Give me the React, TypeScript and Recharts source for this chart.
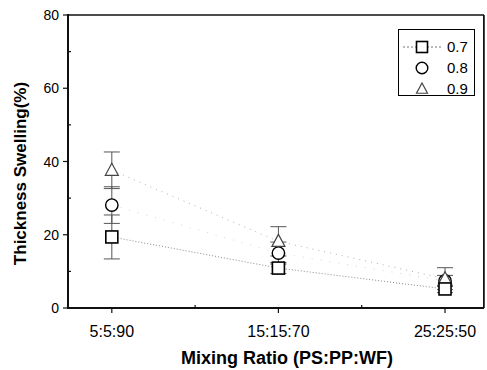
import React from 'react';
import { ComposedChart, Line, XAxis, YAxis, ErrorBar, ReferenceArea } from 'recharts';

// categories along the x axis (placed at 0, 1, 2)
const ratios = ['5:5:90', '15:15:70', '25:25:50'];

// thickness swelling (%) per density
const swell07 = [19.4, 10.9, 5.2];
const swell08 = [28.1, 15.0, 7.4];
const swell09 = [37.6, 18.2, 8.0];

// error bar half-widths
const err07 = [6.0, 1.5, 1.0];
const err08 = [5.0, 3.0, 1.5];
const err09 = [5.0, 4.0, 3.0];

const xTicks = [0, 0.5, 1, 1.5, 2];
const yTicks = [0, 10, 20, 30, 40, 50, 60, 70, 80];
const legendLabels = ['0.7', '0.8', '0.9'];

const FONT = '"Liberation Sans", Arial, Helvetica, sans-serif';
const X_DOMAIN = [-0.263, 2.234];
const Y_DOMAIN = [0, 80];
const AXIS = '#111';

const data = ratios.map((r, i) => ({
    x: i,
    s07: swell07[i],
    s08: swell08[i],
    s09: swell09[i],
    e07: err07[i],
    e08: err08[i],
    e09: err09[i]
}));

const Square = ({ cx, cy, s = 6 }: any) => (
    <rect x={cx - s} y={cy - s} width={2 * s} height={2 * s} fill="#fff" stroke="#000" strokeWidth={1.6} />
);
const Circle = ({ cx, cy, r = 6.2 }: any) => (
    <circle cx={cx} cy={cy} r={r} fill="#fff" stroke="#000" strokeWidth={1.4} />
);
const Triangle = ({ cx, cy, s = 6.5 }: any) => (
    <polygon
        points={`${cx},${cy - s - 0.5} ${cx - s},${cy + s * 0.77} ${cx + s},${cy + s * 0.77}`}
        fill="#fff"
        stroke="#444"
        strokeWidth={1.2}
    />
);

const XTick = ({ x, y, payload }: any) => {
    const major = Number.isInteger(payload.value);
    return (
        <g>
            <line x1={x} x2={x} y1={y} y2={major ? y + 5 : y - 3} stroke={AXIS} strokeWidth={1.2} />
            {major && (
                <text x={x} y={y + 29} textAnchor="middle" fontSize={16} fontFamily={FONT} fill="#000">
                    {ratios[payload.value]}
                </text>
            )}
        </g>
    );
};

const YTick = ({ x, y, payload }: any) => {
    const major = payload.value % 20 === 0;
    return (
        <g>
            <line x1={x} x2={major ? x - 5 : x + 3} y1={y} y2={y} stroke={AXIS} strokeWidth={1.2} />
            {major && (
                <text x={x - 9} y={y + 5} textAnchor="end" fontSize={14} fontFamily={FONT} fill="#000">
                    {payload.value}
                </text>
            )}
        </g>
    );
};

const RightTick = ({ x, y, payload }: any) => {
    const major = payload.value % 20 === 0;
    if (payload.value === 0 || payload.value === 80) return null;
    return <line x1={x} x2={x - (major ? 5 : 3)} y1={y} y2={y} stroke={AXIS} strokeWidth={1.2} />;
};

const LegendBox = () => (
    <div style={{ position: 'absolute', left: 398, top: 29, width: 77, height: 67, border: '1.5px solid #000', background: '#fff', boxSizing: 'border-box' }}>
        <svg width={74} height={64} style={{ display: 'block', overflow: 'visible' }}>
            <line x1={4} x2={44} y1={17} y2={17} stroke="#777" strokeDasharray="2 2" />
            <Square cx={23} cy={17} s={5.5} />
            <Circle cx={23} cy={38} r={5.8} />
            <Triangle cx={23} cy={59} s={5.5} />
            {legendLabels.map((t, i) => (
                <text key={t} x={48} y={22 + i * 21} fontSize={15} fontFamily={FONT} fill="#000">
                    {t}
                </text>
            ))}
        </svg>
    </div>
);

// frame edges as thin filled bands (about 2px / 1.5px wide)
const dx = 0.006;
const dy = 0.28;

export default function App() {
    return (
        <div style={{ position: 'absolute', left: 0, top: 0, width: 487, height: 370, background: '#fff' }}>
            <ComposedChart
                width={487}
                height={370}
                data={data}
                margin={{ top: 15, right: 2, left: 0, bottom: 0 }}
            >
                <XAxis
                    dataKey="x"
                    type="number"
                    domain={X_DOMAIN}
                    ticks={xTicks}
                    allowDataOverflow
                    height={62}
                    tickSize={0}
                    tickMargin={0}
                    tickLine={false}
                    tick={<XTick />}
                    stroke={AXIS}
                    strokeWidth={2}
                    label={{
                        value: 'Mixing Ratio (PS:PP:WF)',
                        position: 'insideBottom',
                        offset: 6,
                        dx: 11,
                        style: { fontFamily: FONT, fontSize: 18, fontWeight: 'bold', fill: '#000' }
                    }}
                />
                <YAxis
                    type="number"
                    domain={Y_DOMAIN}
                    ticks={yTicks}
                    allowDataOverflow
                    width={68}
                    tickSize={0}
                    tickMargin={0}
                    tickLine={false}
                    tick={<YTick />}
                    stroke={AXIS}
                    strokeWidth={2}
                    label={{
                        value: 'Thickness Swelling(%)',
                        angle: -90,
                        position: 'insideLeft',
                        offset: 20,
                        dy: 12,
                        style: { fontFamily: FONT, fontSize: 17, fontWeight: 'bold', fill: '#000', textAnchor: 'middle' }
                    }}
                />
                <YAxis
                    yAxisId="right"
                    orientation="right"
                    type="number"
                    domain={Y_DOMAIN}
                    ticks={yTicks}
                    width={1}
                    tickSize={0}
                    tickMargin={0}
                    tickLine={false}
                    tick={<RightTick />}
                    stroke={AXIS}
                    strokeWidth={1.5}
                />

                {/* plot frame */}
                <ReferenceArea x1={X_DOMAIN[0] - dx} x2={X_DOMAIN[0] + dx} y1={Y_DOMAIN[0] - dy} y2={Y_DOMAIN[1] + dy} fill={AXIS} fillOpacity={1} stroke="none" ifOverflow="visible" />
                <ReferenceArea x1={X_DOMAIN[1] - dx} x2={X_DOMAIN[1]} y1={Y_DOMAIN[0]} y2={Y_DOMAIN[1]} fill={AXIS} fillOpacity={1} stroke="none" ifOverflow="visible" />
                <ReferenceArea x1={X_DOMAIN[0]} x2={X_DOMAIN[1]} y1={Y_DOMAIN[0] - dy} y2={Y_DOMAIN[0] + dy} fill={AXIS} fillOpacity={1} stroke="none" ifOverflow="visible" />
                <ReferenceArea x1={X_DOMAIN[0]} x2={X_DOMAIN[1]} y1={Y_DOMAIN[1] - dy * 0.7} y2={Y_DOMAIN[1] + dy * 0.7} fill={AXIS} fillOpacity={1} stroke="none" ifOverflow="visible" />

                <Line
                    dataKey="s08"
                    stroke="#d4d4d4"
                    strokeWidth={1}
                    strokeDasharray="1 8"
                    isAnimationActive={false}
                    dot={(p: any) => <Circle key={`c${p.index}`} cx={p.cx} cy={p.cy} />}
                    activeDot={false}
                >
                    <ErrorBar dataKey="e08" width={8} stroke="#555" strokeWidth={1} direction="y" />
                </Line>
                <Line
                    dataKey="s09"
                    stroke="#b0b0b0"
                    strokeWidth={1}
                    strokeDasharray="1 5"
                    isAnimationActive={false}
                    dot={(p: any) => <Triangle key={`t${p.index}`} cx={p.cx} cy={p.cy} />}
                    activeDot={false}
                >
                    <ErrorBar dataKey="e09" width={8} stroke="#555" strokeWidth={1} direction="y" />
                </Line>
                <Line
                    dataKey="s07"
                    stroke="#8a8a8a"
                    strokeWidth={1}
                    strokeDasharray="1 2"
                    isAnimationActive={false}
                    dot={(p: any) => <Square key={`s${p.index}`} cx={p.cx} cy={p.cy} />}
                    activeDot={false}
                >
                    <ErrorBar dataKey="e07" width={8} stroke="#555" strokeWidth={1} direction="y" />
                </Line>
            </ComposedChart>
            <LegendBox />
        </div>
    );
}
